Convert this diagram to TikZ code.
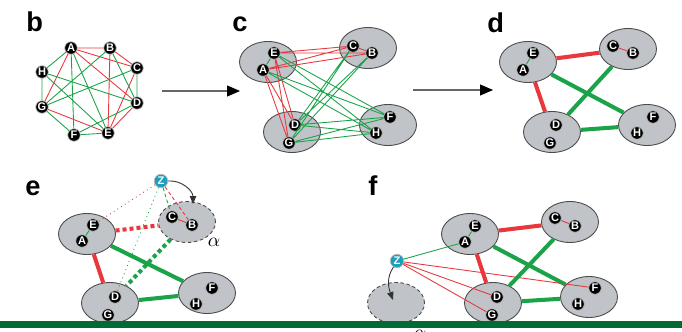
\documentclass[tikz,border=0pt]{standalone}
\usepackage{fontspec}
\setmainfont{Liberation Sans}
\usetikzlibrary{arrows.meta, shapes.geometric}
\definecolor{negative}{HTML}{E8383D}
\definecolor{positive}{HTML}{1BA34A}
\definecolor{clusterfill}{HTML}{C0C3C8}
\definecolor{clusteredge}{HTML}{4A4A4A}
\definecolor{probefill}{HTML}{1E9EBE}
\definecolor{footerbar}{HTML}{006B35}

\begin{document}
\begin{tikzpicture}[
        x=0.02cm, y=-0.02cm,
        vertex/.style={
            circle,
            fill=black,
            draw=gray!55,
            line width=0.4pt,
            minimum size=0.25cm,
            inner sep=0pt,
            text=white,
            font=\fontsize{6.3}{6.3}\selectfont\bfseries
        },
        probe/.style={vertex, fill=probefill, minimum size=0.27cm},
        cluster/.style={
            ellipse,
            draw=clusteredge,
            fill=clusterfill,
            line width=0.5pt,
            minimum width=1.14cm,
            minimum height=0.82cm,
            inner sep=0pt
        },
        ghost/.style={cluster, dash pattern=on 2pt off 1.5pt},
        panellabel/.style={anchor=base west, inner sep=0pt, font=\fontsize{15.5}{15.5}\selectfont\bfseries},
        neglink/.style={negative, line width=0.5pt},
        poslink/.style={positive, line width=0.5pt},
        negbond/.style={negative, line width=2.3pt},
        posbond/.style={positive, line width=2.3pt},
        trialbond/.style={line width=2.3pt, dash pattern=on 2.3pt off 1.7pt},
        stagearrow/.style={-{Triangle[length=2.6mm, width=2.2mm, color=black]}, draw=black!60, line width=0.6pt},
        movearrow/.style={-{Triangle[length=1.6mm, width=1.3mm]}, black!80, line width=0.5pt}
    ]
        \useasboundingbox (0,0) rectangle (682,331);

        % b: signed graph
        \node[panellabel] (labelb) at (26,32) {b};
        \node[vertex] (bA) at (71,48) {A};
        \node[vertex] (bB) at (110,48) {B};
        \node[vertex] (bC) at (137,68) {C};
        \node[vertex] (bD) at (137,103) {D};
        \node[vertex] (bE) at (108,133) {E};
        \node[vertex] (bF) at (74,135) {F};
        \node[vertex] (bG) at (42,107) {G};
        \node[vertex] (bH) at (42,72) {H};
        \draw[neglink] (bA) -- (bB) (bA) -- (bC) (bE) -- (bB) (bE) -- (bC)
            (bA) -- (bD) (bA) -- (bG) (bE) -- (bD) (bE) -- (bG) (bC) -- (bB);
        \draw[poslink] (bE) -- (bA) (bE) -- (bF) (bE) -- (bH) (bA) -- (bF) (bA) -- (bH)
            (bC) -- (bD) (bC) -- (bG) (bB) -- (bD) (bB) -- (bG)
            (bD) -- (bF) (bD) -- (bH) (bG) -- (bF) (bG) -- (bH);

        \coordinate (bcstart) at (162,91);
        \coordinate (bcend) at (240,91);
        \draw[stagearrow] (bcstart) -- (bcend);

        % c: vertices grouped into clusters
        \node[panellabel] (labelc) at (232,32) {c};
        \node[cluster] (cEA) at (268,62) {};
        \node[cluster] (cCB) at (368,48) {};
        \node[cluster] (cDG) at (292,132) {};
        \node[cluster] (cFH) at (388,125) {};
        \node[vertex] (cE) at (274,53) {E};
        \node[vertex] (cA) at (263,70) {A};
        \node[vertex] (cC) at (353,46) {C};
        \node[vertex] (cB) at (372,53) {B};
        \node[vertex] (cD) at (295,125) {D};
        \node[vertex] (cG) at (289,143) {G};
        \node[vertex] (cF) at (390,117) {F};
        \node[vertex] (cH) at (376,133) {H};
        \draw[neglink] (cA) -- (cB) (cA) -- (cC) (cE) -- (cB) (cE) -- (cC)
            (cA) -- (cD) (cA) -- (cG) (cE) -- (cD) (cE) -- (cG) (cC) -- (cB);
        \draw[poslink] (cE) -- (cA) (cE) -- (cF) (cE) -- (cH) (cA) -- (cF) (cA) -- (cH)
            (cC) -- (cD) (cC) -- (cG) (cB) -- (cD) (cB) -- (cG)
            (cD) -- (cF) (cD) -- (cH) (cG) -- (cF) (cG) -- (cH);

        \coordinate (cdstart) at (413,90);
        \coordinate (cdend) at (493,90);
        \draw[stagearrow] (cdstart) -- (cdend);

        % d: reduced cluster graph
        \node[panellabel] (labeld) at (487,33) {d};
        \node[cluster] (dEA) at (528,62) {};
        \node[cluster] (dCB) at (628,49) {};
        \node[cluster] (dDG) at (552,132) {};
        \node[cluster] (dFH) at (647,125) {};
        \node[vertex] (dE) at (533,53) {E};
        \node[vertex] (dA) at (523,70) {A};
        \node[vertex] (dC) at (613,46) {C};
        \node[vertex] (dB) at (633,53) {B};
        \node[vertex] (dD) at (556,125) {D};
        \node[vertex] (dG) at (550,143) {G};
        \node[vertex] (dF) at (653,117) {F};
        \node[vertex] (dH) at (637,133) {H};
        \draw[poslink] (dE) -- (dA);
        \draw[neglink] (dC) -- (dB);
        \draw[negbond] (dEA) -- (dCB) (dEA) -- (dDG);
        \draw[posbond] (dEA) -- (dFH) (dCB) -- (dDG) (dDG) -- (dFH);

        % e: probe Z tested against cluster CB
        \node[panellabel] (labele) at (25,195) {e};
        \node[cluster] (eEA) at (87,234) {};
        \node[ghost] (eCB) at (187,222) {};
        \node[cluster] (eDG) at (110,303) {};
        \node[cluster] (eFH) at (207,293) {};
        \node[vertex] (eE) at (93,225) {E};
        \node[vertex] (eA) at (82,241) {A};
        \node[vertex] (eC) at (172,217) {C};
        \node[vertex] (eB) at (192,225) {B};
        \node[vertex] (eD) at (115,297) {D};
        \node[vertex] (eG) at (108,315) {G};
        \node[vertex] (eF) at (212,288) {F};
        \node[vertex] (eH) at (196,304) {H};
        \node[probe] (eZ) at (161,181) {Z};
        \node[font=\fontsize{11}{11}\selectfont] (ealpha) at (214,242) {$\alpha$};
        \coordinate (eland) at (193,204);
        \draw[poslink] (eE) -- (eA);
        \draw[neglink] (eC) -- (eB);
        \draw[negbond] (eEA) -- (eDG);
        \draw[posbond] (eEA) -- (eFH) (eDG) -- (eFH);
        \draw[trialbond, negative] (eEA) -- (eCB);
        \draw[trialbond, positive] (eCB) -- (eDG);
        \draw[neglink, dotted] (eZ) -- (eE);
        \draw[poslink, dotted] (eZ) -- (eD);
        \draw[poslink, dash pattern=on 2pt off 1.5pt] (eZ) -- (eC);
        \draw[neglink, dash pattern=on 2pt off 1.5pt] (eZ) -- (eB);
        \draw[movearrow] (eZ.east) to[out=5, in=90] (eland);

        % f: probe Z placed into an empty cluster
        \node[panellabel] (labelf) at (368,195) {f};
        \node[cluster] (fEA) at (470,234) {};
        \node[cluster] (fCB) at (570,222) {};
        \node[cluster] (fDG) at (493,303) {};
        \node[cluster] (fFH) at (589,297) {};
        \node[ghost] (fnew) at (396,303) {};
        \node[vertex] (fE) at (475,226) {E};
        \node[vertex] (fA) at (465,242) {A};
        \node[vertex] (fC) at (555,218) {C};
        \node[vertex] (fB) at (575,226) {B};
        \node[vertex] (fD) at (497,297) {D};
        \node[vertex] (fG) at (492,315) {G};
        \node[vertex] (fF) at (595,288) {F};
        \node[vertex] (fH) at (578,304) {H};
        \node[probe] (fZ) at (397,261) {Z};
        \node[font=\fontsize{11}{11}\selectfont] (falpha) at (420,334) {$\alpha$};
        \coordinate (fland) at (393,300);
        \draw[poslink] (fE) -- (fA);
        \draw[neglink] (fC) -- (fB);
        \draw[negbond] (fEA) -- (fCB) (fEA) -- (fDG);
        \draw[posbond] (fEA) -- (fFH) (fCB) -- (fDG) (fDG) -- (fFH);
        \draw[poslink] (fZ) -- (fA);
        \draw[neglink] (fZ) -- (fF) (fZ) -- (fD) (fZ) -- (fG);
        \draw[movearrow] (fZ.240) to[out=235, in=110] (fland);

        \fill[footerbar] (0,321) rectangle (682,328);
    \end{tikzpicture}
\end{document}
